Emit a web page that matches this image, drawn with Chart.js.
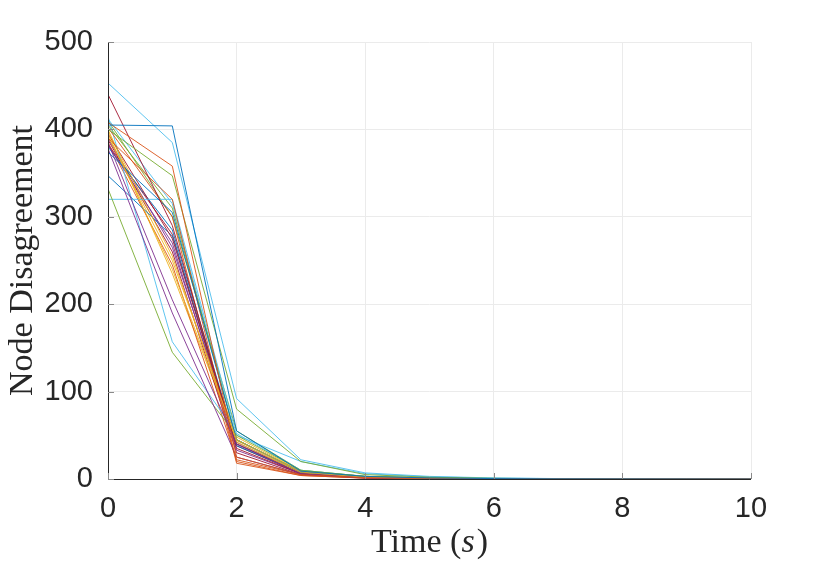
<!DOCTYPE html>
<html>
<head>
<meta charset="utf-8">
<script src="https://cdn.jsdelivr.net/npm/chart.js@4.4.0/dist/chart.umd.min.js"></script>
<style>
  html, body { margin: 0; padding: 0; background: #ffffff; }
  #wrap { width: 830px; height: 564px; position: relative; }
</style>
</head>
<body>
<div id="wrap"><canvas id="c" width="830" height="564"></canvas></div>
<script>
// ---- data ----
const timeSteps = [0, 1, 2, 3, 4, 5, 6, 7, 8, 9, 10];
const xTickLabels = ["0", "2", "4", "6", "8", "10"];
const yTickLabels = ["0", "100", "200", "300", "400", "500"];
const xTitle = "Time (s)";
const yTitle = "Node Disagreement";

const node01 = [405, 404, 55, 9, 3, 1.2, 0.5, 0.2, 0.1, 0.05, 0];
const node02 = [408, 358, 25, 5, 1.5, 0.6, 0.2, 0.1, 0, 0, 0];
const node03 = [395, 240, 45, 8, 2, 0.8, 0.3, 0.1, 0, 0, 0];
const node04 = [385, 205, 40, 6, 1.5, 0.5, 0.2, 0.1, 0, 0, 0];
const node05 = [400, 347, 80, 20, 5, 2, 0.8, 0.3, 0.1, 0, 0];
const node06 = [453, 385, 92, 22, 7, 3, 1.2, 0.5, 0.2, 0.1, 0];
const node07 = [440, 290, 35, 6, 1.5, 0.6, 0.2, 0.1, 0, 0, 0];
const node08 = [374, 305, 45, 8, 2, 0.8, 0.3, 0.1, 0, 0, 0];
const node09 = [390, 320, 20, 4, 1, 0.4, 0.1, 0, 0, 0, 0];
const node10 = [398, 255, 42, 7, 2, 0.7, 0.3, 0.1, 0, 0, 0];
const node11 = [378, 190, 25, 5, 1, 0.4, 0.1, 0, 0, 0, 0];
const node12 = [332, 145, 50, 10, 3, 1, 0.4, 0.1, 0, 0, 0];
const node13 = [320, 320, 50, 20, 6, 2.5, 1, 0.4, 0.1, 0, 0];
const node14 = [395, 275, 40, 7, 2, 0.7, 0.3, 0.1, 0, 0, 0];
const node15 = [347, 278, 38, 7, 2, 0.7, 0.2, 0.1, 0, 0, 0];
const node16 = [402, 300, 18, 4, 1, 0.4, 0.1, 0, 0, 0, 0];
const node17 = [392, 250, 48, 9, 2.5, 1, 0.4, 0.1, 0, 0, 0];
const node18 = [382, 270, 33, 6, 1.5, 0.5, 0.2, 0, 0, 0, 0];
const node19 = [405, 310, 45, 9, 3, 1, 0.4, 0.1, 0, 0, 0];
const node20 = [415, 157, 52, 10, 3, 1, 0.4, 0.1, 0, 0, 0];
const node21 = [388, 260, 30, 5, 1.5, 0.5, 0.2, 0, 0, 0, 0];
const node22 = [380, 285, 40, 7, 2, 0.7, 0.3, 0.1, 0, 0, 0];
const node23 = [385, 245, 22, 5, 1.2, 0.4, 0.1, 0, 0, 0, 0];
const node24 = [400, 235, 44, 8, 2, 0.7, 0.3, 0.1, 0, 0, 0];
const node25 = [390, 265, 42, 7, 2, 0.7, 0.3, 0.1, 0, 0, 0];
const node26 = [410, 300, 55, 10, 3, 1, 0.4, 0.1, 0, 0, 0];
const node27 = [412, 315, 45, 8, 2.5, 1, 0.4, 0.1, 0, 0, 0];
const node28 = [383, 280, 38, 6, 1.5, 0.5, 0.2, 0.1, 0, 0, 0];

const nodeSeries = [node01, node02, node03, node04, node05, node06, node07,
  node08, node09, node10, node11, node12, node13, node14,
  node15, node16, node17, node18, node19, node20, node21,
  node22, node23, node24, node25, node26, node27, node28];

// ---- styles ----
const colorOrder = ["#0072BD", "#D95319", "#EDB120", "#7E2F8E", "#77AC30", "#4DBEEE", "#A2142F"];
const axisColor = "#262626";
const gridColor = "#ebebeb";
const tickFont = { family: "'Liberation Sans', Arial, Helvetica, sans-serif", size: 29 };

const datasets = nodeSeries.map((vals, i) => ({
  label: "Node " + (i + 1),
  data: vals.map((v, k) => ({ x: timeSteps[k], y: v })),
  borderColor: colorOrder[i % colorOrder.length],
  borderWidth: 0.9,
  pointRadius: 0,
  tension: 0,
  fill: false
}));

const PLOT = { left: 108, right: 751, top: 42, bottom: 479 };

const decorPlugin = {
  id: 'decor',
  afterDraw(chart) {
    const ctx = chart.ctx;
    const xs = chart.scales.x, ys = chart.scales.y;
    ctx.save();
    // axis lines
    ctx.strokeStyle = axisColor;
    ctx.lineWidth = 1;
    ctx.beginPath();
    ctx.moveTo(xs.left + 0.5, ys.top);
    ctx.lineTo(xs.left + 0.5, ys.bottom + 0.5);
    ctx.lineTo(xs.right, ys.bottom + 0.5);
    ctx.stroke();
    // inward ticks
    ctx.strokeStyle = "#8a8a8a";
    ctx.beginPath();
    xTickLabels.forEach(l => {
      const px = Math.round(xs.getPixelForValue(Number(l))) + 0.5;
      ctx.moveTo(px, ys.bottom);
      ctx.lineTo(px, ys.bottom - 6);
    });
    yTickLabels.forEach(l => {
      const py = Math.round(ys.getPixelForValue(Number(l))) + 0.5;
      ctx.moveTo(xs.left, py);
      ctx.lineTo(xs.left + 6, py);
    });
    ctx.stroke();
    // x title: "Time (s)" with italic s
    ctx.fillStyle = axisColor;
    ctx.textBaseline = "alphabetic";
    const serif = "'Liberation Serif', 'Times New Roman', serif";
    const fs = 34;
    const p1 = "Time (", p2 = "s", p3 = ")";
    ctx.font = fs + "px " + serif;
    const w1 = ctx.measureText(p1).width, w3 = ctx.measureText(p3).width;
    ctx.font = "italic " + fs + "px " + serif;
    const w2 = ctx.measureText(p2).width;
    const total = w1 + w2 + w3 + 2;
    const cx = (xs.left + xs.right) / 2;
    let x0 = cx - total / 2;
    const yb = 552;
    ctx.font = fs + "px " + serif;
    ctx.textAlign = "left";
    ctx.fillText(p1, x0, yb);
    ctx.font = "italic " + fs + "px " + serif;
    ctx.fillText(p2, x0 + w1, yb);
    ctx.font = fs + "px " + serif;
    ctx.fillText(p3, x0 + w1 + w2 + 2, yb);
    // y title
    ctx.translate(32, (ys.top + ys.bottom) / 2);
    ctx.rotate(-Math.PI / 2);
    ctx.textAlign = "center";
    ctx.font = fs + "px " + serif;
    ctx.fillText(yTitle, 0, 0);
    ctx.restore();
  }
};

new Chart(document.getElementById('c'), {
  type: 'line',
  data: { datasets },
  options: {
    responsive: false,
    animation: false,
    devicePixelRatio: 1,
    layout: { padding: { left: 0, right: 830 - PLOT.right, top: PLOT.top, bottom: 0 } },
    plugins: { legend: { display: false }, tooltip: { enabled: false }, title: { display: false } },
    scales: {
      x: {
        type: 'linear', min: 0, max: 10,
        afterFit(s) { s.height = 564 - PLOT.bottom; },
        afterBuildTicks(s) { s.ticks = xTickLabels.map(v => ({ value: Number(v) })); },
        ticks: { color: axisColor, font: tickFont, padding: 13, maxRotation: 0,
          callback: v => String(v) },
        grid: { color: gridColor, drawTicks: false, lineWidth: 1 },
        border: { display: false }
      },
      y: {
        type: 'linear', min: 0, max: 500,
        afterFit(s) { s.width = PLOT.left; },
        afterBuildTicks(s) { s.ticks = yTickLabels.map(v => ({ value: Number(v) })); },
        ticks: { color: axisColor, font: tickFont, padding: 15,
          callback: v => String(v) },
        grid: { color: gridColor, drawTicks: false, lineWidth: 1 },
        border: { display: false }
      }
    }
  },
  plugins: [decorPlugin]
});
</script>
</body>
</html>
